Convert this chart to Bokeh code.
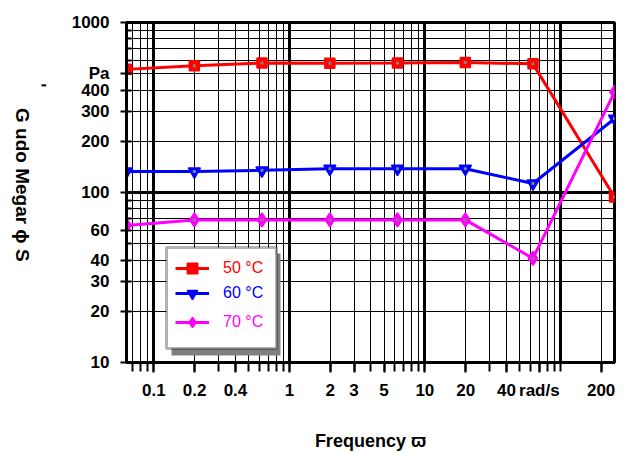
import math
from bokeh.plotting import figure
from bokeh.layouts import row
from bokeh.models import (FixedTicker, CustomJSTickFormatter, Grid, Legend, LegendItem,
                          BoxAnnotation, Range1d, LogAxis)
from bokeh.core.properties import value
from bokeh.embed import file_html
from bokeh.resources import INLINE

# ---------------- data ----------------
freq = [0.0628, 0.199, 0.628, 1.99, 6.28, 19.9, 62.8, 251]
g_50 = [530, 556, 577, 575, 577, 582, 571, 94]
g_60 = [133, 133, 135, 138, 138, 138, 113, 272]
g_70 = [64, 69, 69, 69, 69, 69, 41, 389]
series_labels = ["50 °C", "60 °C", "70 °C"]
series_colors = ["#FF0000", "#0000FF", "#FF00FF"]
series_markers = ["square", "inverted_triangle", "diamond"]

x_tick_vals = [0.1, 0.2, 0.4, 1, 2, 3, 5, 10, 20, 40, 70, 200]
x_tick_text = ["0.1", "0.2", "0.4", "1", "2", "3", "5", "10", "20", "40", "rad/s", "200"]
y_tick_vals = [10, 20, 30, 40, 60, 100, 200, 300, 400, 500, 1000]
y_tick_text = ["10", "20", "30", "40", "60", "100", "200", "300", "400", "Pa", "1000"]
x_decades = [0.1, 1, 10, 100]
y_decades = [10, 100, 1000]
multipliers = [1, 2, 3, 4, 5, 6, 7, 8, 9]
x_label = "Frequency ϖ"
y_label = "G udo Megar ɸ S"
y_label_mark = "'"

X0, X1 = 0.0628, 251
Y0, Y1 = 10, 1000
FW, FH = 488, 340
LAB_W = 56
TOTAL_H = 22 + FH + 86

x_minor = [d * m / 10 for d in [0.1, 1, 10, 100, 1000] for m in multipliers]
x_minor = [v for v in x_minor if X0 <= v <= X1]
y_minor = [d * m for d in [10, 100] for m in multipliers] + [1000]

FONT = "Liberation Sans"


# helpers converting frame pixel offsets to data positions (layout only)
def fx(px):
    return X0 * (X1 / X0) ** (px / FW)


def fy(py):
    return Y1 * (Y0 / Y1) ** (py / FH)


p = figure(x_axis_type="log", y_axis_type="log",
           x_range=Range1d(X0, X1), y_range=Range1d(Y0, Y1),
           frame_width=FW, frame_height=FH,
           min_border_left=126 - LAB_W, min_border_right=3, min_border_top=22, min_border_bottom=86,
           output_backend="svg", toolbar_location=None)
p.background_fill_color = "white"
p.border_fill_color = "white"
p.outline_line_color = "black"
p.outline_line_width = 3

fmt_code = """
for (let i = 0; i < vals.length; i++) {
  if (Math.abs(tick - vals[i]) <= 1e-6 * vals[i]) return labs[i];
}
return "";
"""
p.xaxis.ticker = FixedTicker(ticks=x_tick_vals, minor_ticks=x_minor)
p.xaxis.formatter = CustomJSTickFormatter(args=dict(vals=x_tick_vals, labs=x_tick_text), code=fmt_code)
p.yaxis.ticker = FixedTicker(ticks=y_tick_vals, minor_ticks=y_minor)
p.yaxis.formatter = CustomJSTickFormatter(args=dict(vals=y_tick_vals, labs=y_tick_text), code=fmt_code)

for ax in (p.xaxis, p.yaxis):
    ax.axis_line_width = 3
    ax.axis_line_color = "black"
    ax.major_tick_line_color = "black"
    ax.minor_tick_line_color = "black"
    ax.major_tick_line_width = 2
    ax.minor_tick_line_width = 2
    ax.major_label_text_font = FONT
    ax.major_label_text_font_style = "bold"
    ax.major_label_text_font_size = "17px"
    ax.major_label_text_color = "black"

p.xaxis.major_tick_out = 10
p.xaxis.major_tick_in = 0
p.xaxis.minor_tick_out = 9
p.xaxis.minor_tick_in = 0
p.xaxis.major_label_standoff = 8

p.yaxis.major_tick_out = 6
p.yaxis.major_tick_in = 0
p.yaxis.minor_tick_out = 0
p.yaxis.minor_tick_in = 5
p.yaxis.major_label_standoff = 11

xlab_axis = LogAxis(ticker=FixedTicker(ticks=[]),
                    axis_line_color=None, major_tick_line_color=None, minor_tick_line_color=None,
                    axis_label=x_label, axis_label_text_font=FONT, axis_label_text_font_style="bold",
                    axis_label_text_font_size="18px", axis_label_text_color="black",
                    axis_label_standoff=28)
p.add_layout(xlab_axis, "below")

for g in (p.xgrid, p.ygrid):
    g.grid_line_color = "black"
    g.grid_line_width = 1
    g.minor_grid_line_color = "black"
    g.minor_grid_line_width = 1

p.add_layout(Grid(dimension=0, ticker=FixedTicker(ticks=x_decades),
                  grid_line_color="black", grid_line_width=3))
p.add_layout(Grid(dimension=1, ticker=FixedTicker(ticks=y_decades),
                  grid_line_color="black", grid_line_width=3))

renderers = []
for ys, col, mk in zip([g_50, g_60, g_70], series_colors, series_markers):
    rl = p.line(freq, ys, line_color=col, line_width=3)
    size = {"square": 10, "inverted_triangle": 12, "diamond": 14}[mk]
    rs = p.scatter(freq, ys, marker=mk, size=size, fill_color=col, line_color=col, line_width=1.5)
    p.scatter(freq, ys, marker="square", size=3, fill_color="#808080", line_color=None)
    renderers.append((rl, rs))

p.add_layout(BoxAnnotation(left=fx(45), right=fx(154), top=fy(231), bottom=fy(333),
                           fill_color="#808080", fill_alpha=1, line_color=None))
p.add_layout(BoxAnnotation(left=fx(40), right=fx(150), top=fy(225), bottom=fy(326),
                           fill_color="white", fill_alpha=1, line_color="black", line_width=3))

legend_bottoms = [81, 56, 27]
for (rl, rs), lab, col, yb in zip(renderers, series_labels, series_colors, legend_bottoms):
    lg = Legend(items=[LegendItem(label=lab, renderers=[rl, rs])], location=(49, yb),
                border_line_color=None, background_fill_alpha=0, padding=0, margin=0,
                glyph_width=34, glyph_height=26, label_height=26, label_standoff=14,
                label_text_color=col, label_text_font=FONT, label_text_font_size="16px")
    p.add_layout(lg)

# narrow side figure carrying the vertical (top-to-bottom) axis title
lab_fig = figure(width=LAB_W, height=TOTAL_H, x_range=Range1d(0, LAB_W), y_range=Range1d(0, TOTAL_H),
                 x_axis_location=None, y_axis_location=None, min_border=0,
                 output_backend="svg", toolbar_location=None)
lab_fig.outline_line_color = None
lab_fig.grid.visible = False
lab_fig.background_fill_color = "white"
lab_fig.border_fill_color = "white"
lab_fig.text(x=[22], y=[TOTAL_H - 217], text=[y_label], angle=-math.pi / 2,
             text_align="center", text_baseline="middle", text_font=value(FONT),
             text_font_style="bold", text_font_size="19px", text_color="black")
lab_fig.text(x=[38], y=[TOTAL_H - 84], text=[y_label_mark], angle=-math.pi / 2,
             text_align="center", text_baseline="middle", text_font=value(FONT),
             text_font_style="bold", text_font_size="18px", text_color="black")

layout = row(lab_fig, p, spacing=0)
open("out.html", "w").write(file_html(layout, INLINE))
